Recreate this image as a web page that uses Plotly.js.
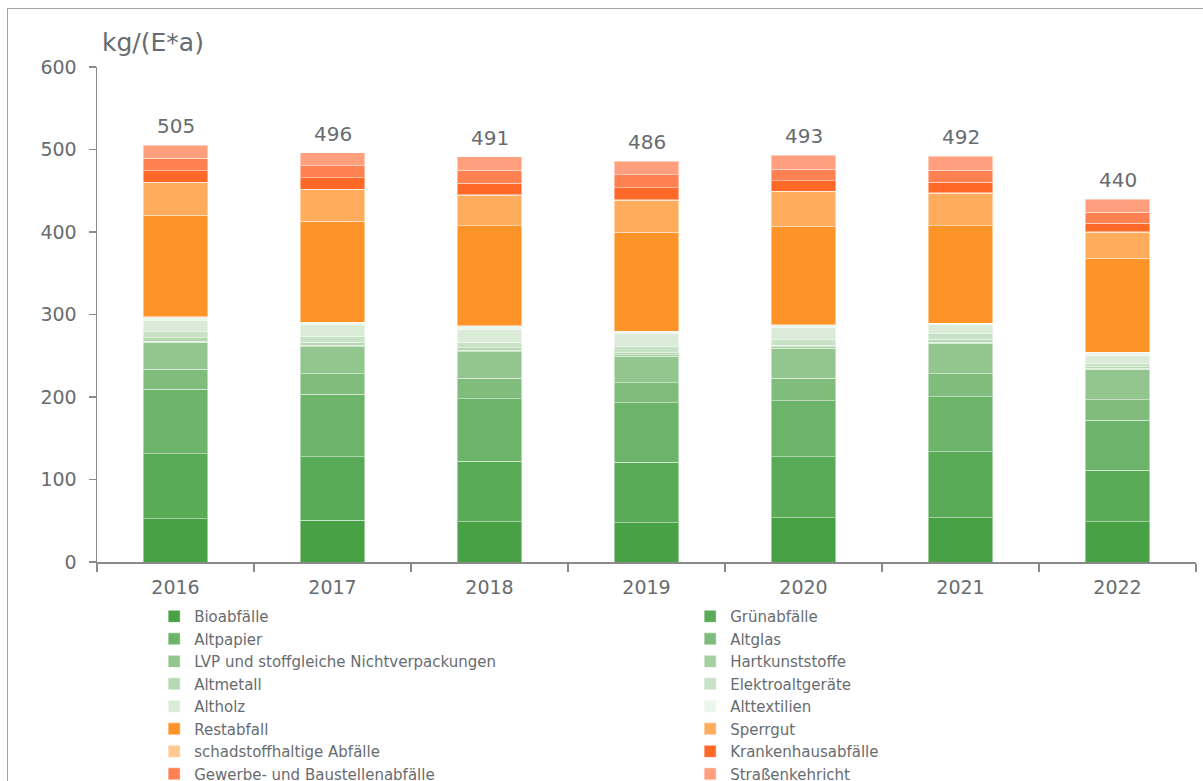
<!DOCTYPE html>
<html>
<head>
<meta charset="utf-8">
<script src="https://cdn.plot.ly/plotly-3.0.1.min.js"></script>
<style>
  html, body { margin: 0; padding: 0; background: #fff; overflow: hidden; }
  #chart { position: absolute; left: 0; top: 0; width: 1203px; height: 900px; }
  #frame { position: absolute; left: 7px; top: 8px; width: 1300px; height: 1000px;
           border: 1px solid #a6a6a6; pointer-events: none; }
</style>
</head>
<body>
<div id="chart"></div>
<div id="frame"></div>
<script>
// ---- data (kg per inhabitant and year) ----
const years = ['2016', '2017', '2018', '2019', '2020', '2021', '2022'];
const totals = [505, 496, 491, 486, 493, 492, 440];

const seriesNames = [
  'Bioabfälle', 'Grünabfälle', 'Altpapier', 'Altglas',
  'LVP und stoffgleiche Nichtverpackungen', 'Hartkunststoffe',
  'Altmetall', 'Elektroaltgeräte', 'Altholz', 'Alttextilien',
  'Restabfall', 'Sperrgut', 'schadstoffhaltige Abfälle',
  'Krankenhausabfälle', 'Gewerbe- und Baustellenabfälle', 'Straßenkehricht'
];

const bioabfaelle   = [52.5, 50.9, 48.9, 47.7, 53.7, 53.7, 48.9];
const gruenabfaelle = [78.8, 76.8, 73.5, 73.1, 74.0, 80.0, 62.6];
const altpapier     = [78.4, 75.9, 75.6, 72.3, 67.9, 66.7, 60.6];
const altglas       = [24.2, 24.3, 24.6, 24.3, 27.0, 27.6, 24.3];
const lvp           = [32.4, 33.1, 32.3, 32.3, 36.8, 37.0, 37.1];
const hartkunst     = [1.5, 1.5, 1.5, 1.5, 1.5, 1.5, 1.5];
const altmetall     = [4.1, 3.8, 3.4, 2.5, 2.1, 3.8, 1.8];
const elektro       = [6.9, 6.8, 6.5, 7.3, 6.5, 6.1, 4.0];
const altholz       = [13.7, 15.0, 16.1, 15.4, 14.9, 11.7, 9.2];
const alttextilien  = [4.5, 2.4, 3.7, 3.2, 3.3, 1.6, 4.5];
const restabfall    = [123.6, 122.8, 121.2, 120.0, 119.2, 118.0, 113.6];
const sperrgut      = [39.2, 38.0, 37.2, 38.8, 42.0, 39.2, 31.5];
const schadstoff    = [0.8, 0.8, 0.8, 0.8, 0.8, 0.8, 0.8];
const krankenhaus   = [13.7, 13.4, 13.7, 14.5, 12.5, 12.9, 10.5];
const gewerbe       = [15.0, 14.9, 15.8, 15.4, 13.8, 14.2, 12.9];
const strassen      = [15.7, 15.6, 16.2, 16.9, 17.0, 17.2, 16.2];

const seriesValues = [
  bioabfaelle, gruenabfaelle, altpapier, altglas, lvp, hartkunst,
  altmetall, elektro, altholz, alttextilien, restabfall, sperrgut,
  schadstoff, krankenhaus, gewerbe, strassen
];

const seriesColors = [
  '#48a245', '#5aab57', '#6cb46a', '#80bd7c', '#92c68e', '#a4cfa0',
  '#b6d8b3', '#c8e2c5', '#daebd8', '#ecf5eb',
  '#fe9428', '#ffad5c', '#ffc991', '#ff6826', '#ff8050', '#ff9f7e'
];

const FONT = "'DejaVu Sans', sans-serif";
const TXT = '#686c70';
const AX = '#8a8a8a';

const traces = seriesNames.map((name, i) => ({
  type: 'bar',
  name: name,
  x: years,
  y: seriesValues[i],
  marker: { color: seriesColors[i], line: { color: 'rgba(255,255,255,0.45)', width: 1 } },
  hoverinfo: 'name+y'
}));

// totals above the stacks (category axis: annotation x is the category index)
const annotations = totals.map((t, i) => ({
  xref: 'x', yref: 'y', x: years.indexOf(years[i]), y: t,
  text: String(t), showarrow: false,
  yanchor: 'bottom', yshift: 5,
  font: { family: FONT, size: 20, color: TXT }
}));
annotations.push({
  xref: 'paper', yref: 'paper', x: 0, y: 1,
  xanchor: 'left', yanchor: 'bottom', xshift: 3, yshift: 8,
  text: 'kg/(E*a)', showarrow: false,
  font: { family: FONT, size: 25, color: TXT }
});

const layout = {
  width: 1203, height: 900,
  margin: { l: 97, r: 7, t: 67, b: 338, autoexpand: false },
  paper_bgcolor: '#ffffff', plot_bgcolor: '#ffffff',
  barmode: 'stack', bargap: 0.59,
  font: { family: FONT, color: TXT },
  xaxis: {
    type: 'category', range: [-0.5, 6.5], autorange: false,
    showline: true, linecolor: AX, linewidth: 1.5,
    ticks: 'outside', tickson: 'boundaries', ticklen: 8, tickcolor: AX, tickwidth: 1.5,
    ticklabelstandoff: 8,
    tickfont: { family: FONT, size: 19, color: TXT },
    showgrid: false, zeroline: false
  },
  yaxis: {
    range: [0, 600], autorange: false, dtick: 100, tick0: 0,
    showline: true, linecolor: AX, linewidth: 1.5,
    ticks: 'outside', ticklen: 7, tickcolor: AX, tickwidth: 1.5,
    ticklabelstandoff: 8,
    tickfont: { family: FONT, size: 19, color: TXT },
    showgrid: false, zeroline: false
  },
  showlegend: true,
  legend: {
    orientation: 'h', traceorder: 'normal',
    x: 0.052, xanchor: 'left', y: -0.077, yanchor: 'top',
    entrywidth: 491, entrywidthmode: 'pixels',
    font: { family: FONT, size: 15, color: TXT },
    bgcolor: 'rgba(0,0,0,0)'
  },
  annotations: annotations
};

Plotly.newPlot('chart', traces, layout, { displayModeBar: false, staticPlot: true });
</script>
</body>
</html>
